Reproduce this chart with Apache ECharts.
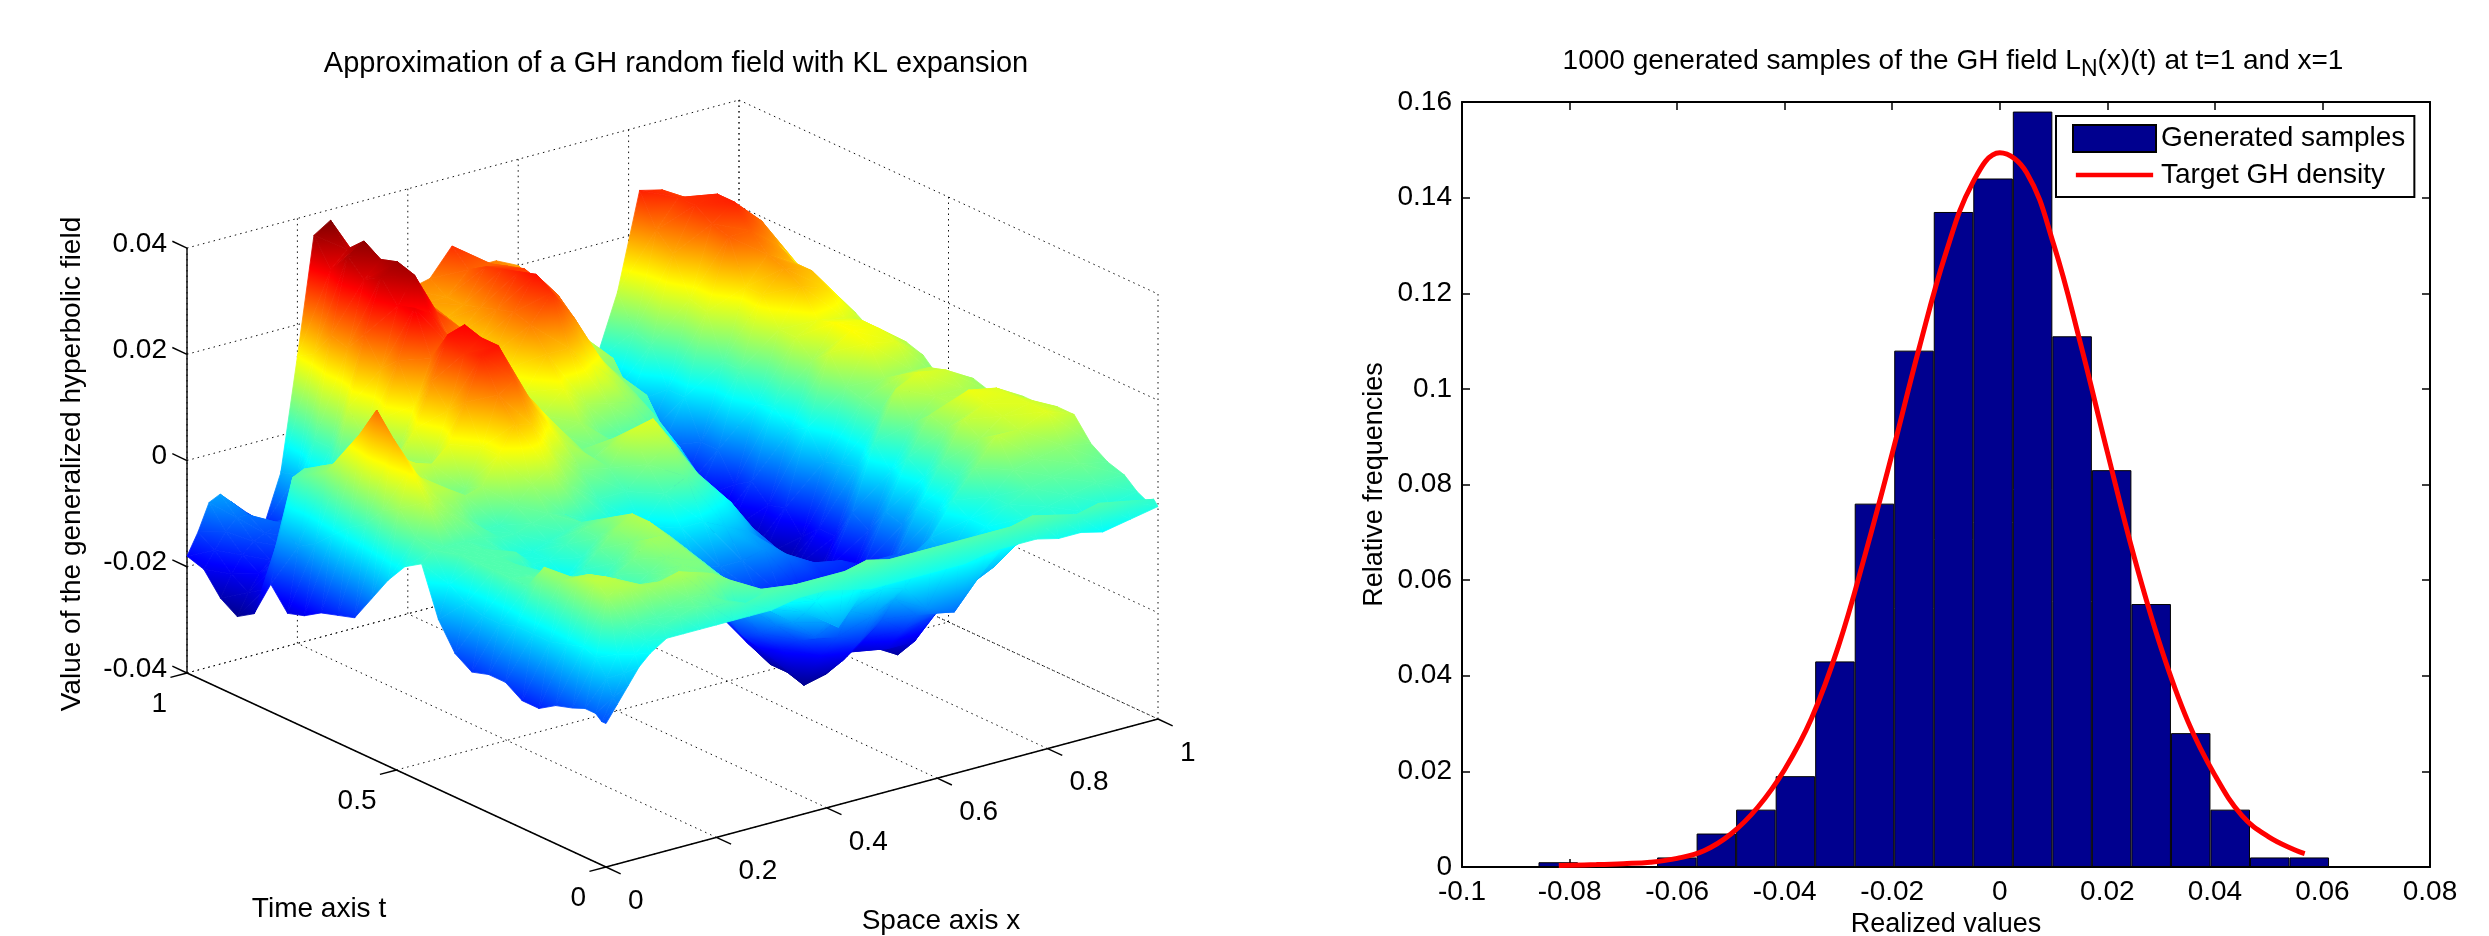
<!DOCTYPE html>
<html><head><meta charset="utf-8"><style>html,body{margin:0;padding:0;background:#fff}#c{width:2489px;height:936px}</style>
<script src="https://cdn.jsdelivr.net/npm/echarts@6/dist/echarts.min.js"></script></head><body><div id="c"></div>
<script>
// ---------- left panel: surface data (z values x 1000) ----------
const xGrid=[0,.02,.04,.06,.08,.11,.14,.17,.20,.23,.26,.30,.35,.40,.44,.48,.52,.56,.60,.65,.70,.74,.78,.82,.86,.90,.95,1];
const tGrid=[1,.96,.92,.88,.84,.80,.76,.72,.68,.64,.60,.56,.52,.48,.44,.40,.36,.32,.28,.24,.20,.16,.12,.08,.05,.025,.01,0];
const zMilli=[
[-18,-14,-9,-8,-10,-13,-16,-7,14,36,38,30,28,21,22,27,22,22,20,14,3,-2,10,28,27,24,22,14],
[-19,-16,-13,-11,-11,-14,-16,-6,16,31,34,28,26,20,20,24,24,21,17,8,-2,-7,4,22,27,25,21,15],
[-23,-19,-16,-14,-13,-12,-11,2,21,35,37,29,25,18,20,26,25,22,15,10,-2,-7,3,19,27,28,22,15],
[-25,-21,-18,-16,-14,-13,-10,2,20,32,35,28,24,17,21,27,26,20,13,6,-6,-12,-4,12,25,28,23,14],
[-23,-19,-15,-13,-11,-7,-3,11,24,34,36,27,23,16,22,28,25,18,11,7,-5,-12,-4,11,24,24,20,13],
[-16,-6,3,4,3,1,0,7,19,30,35,27,22,16,23,29,24,16,9,2,-11,-20,-11,3,16,21,18,11],
[-20,-8,5,6,5,5,6,12,22,31,29,22,18,15,22,27,21,13,7,3,-10,-19,-11,3,16,20,18,11],
[-19,-6,7,8,7,5,3,7,15,23,25,20,16,12,18,18,14,10,6,-2,-15,-24,-16,-2,11,18,16,10],
[-17,-3,12,11,9,8,8,13,21,29,30,22,15,9,13,9,8,7,4,-4,-13,-22,-14,-1,11,13,12,8],
[-16,0,17,15,12,8,5,8,17,27,29,21,14,7,8,4,3,3,0,-11,-18,-26,-17,-4,8,14,13,9],
[-15,2,23,18,13,11,10,13,20,28,29,20,13,5,5,4,2,0,-4,-13,-17,-24,-16,-2,11,14,13,9],
[-10,6,19,14,11,7,4,6,13,22,24,17,10,5,8,8,4,0,-8,-17,-22,-26,-20,-7,6,13,12,8],
[-5,8,15,12,10,9,7,8,13,18,17,11,6,5,11,12,6,-1,-10,-17,-20,-23,-17,-6,5,8,8,5],
[-1,4,10,8,7,5,2,2,5,8,10,6,2,2,6,9,3,-3,-13,-19,-23,-25,-17,-5,4,10,10,7],
[1,3,3,3,3,3,2,2,3,4,3,1,-1,-3,2,4,1,-3,-9,-16,-18,-20,-11,1,10,12,11,8],
[-8,-2,3,3,3,2,0,0,1,2,3,0,-3,-6,-3,-3,-5,-7,-12,-16,-20,-22,-13,-3,5,9,9,7],
[-13,-4,3,3,3,3,0,0,2,4,5,2,-3,-8,-9,-10,-10,-9,-11,-14,-15,-17,-8,1,8,9,9,7],
[-15,-5,3,3,3,0,-3,-2,1,4,7,4,-2,-10,-14,-16,-15,-16,-17,-17,-17,-18,-9,-1,7,13,12,9],
[-14,-5,3,3,3,2,0,1,4,7,9,5,-3,-12,-17,-20,-19,-16,-15,-14,-12,-12,-4,3,10,12,12,9],
[-14,-4,3,4,4,1,-1,0,3,6,9,5,-4,-13,-19,-24,-23,-22,-20,-18,-13,-12,-4,2,8,11,12,10],
[-16,-4,8,6,5,4,2,3,5,8,8,4,-5,-15,-19,-24,-25,-21,-20,-23,-12,-6,0,5,10,10,12,10],
[-16,-4,7,7,6,4,2,2,4,6,7,3,-5,-13,-17,-25,-24,-21,-21,-24,-13,-8,-2,1,5,6,7,6],
[-14,-3,9,9,8,5,4,4,5,6,6,2,-4,-10,-14,-18,-20,-17,-20,-20,-11,-6,-2,1,3,4,5,4],
[-13,-2,10,10,9,7,6,6,6,6,5,1,-4,-8,-12,-13,-15,-12,-15,-14,-9,-7,-3,0,1,2,3,3],
[-12,-3,8,9,9,8,8,9,8,7,5,1,-2,-5,-8,-7,-9,-7,-11,-11,-8,-6,-3,-1,0,0,0,1],
[-12,-6,-2,2,3,3,4,5,5,3,-1,3,1,-2,-8,-3,-3,-4,-9,-11,-5,-1,0,1,0,0,-1,0],
[-13,-9,-5,-2,0,2,3,4,3,3,2,3,3,3,3,4,3,3,3,3,3,3,4,3,2,3,2,1],
[-13,-10,-7,-4,-2,0,0,0,0,0,0,0,1,1,0,-1,-1,-1,-1,-1,0,0,0,-1,-1,-2,-1,0]];
const xTicks=[0,.2,.4,.6,.8,1];
const tTicks=[0,.5,1];
const zTicks=[-.04,-.02,0,.02,.04];
const leftTitle='Approximation of a GH random field with KL expansion';
// ---------- right panel ----------
const binCenters=[-.0821,-.07475,-.0674,-.06005,-.0527,-.04535,-.038,-.03065,-.0233,-.01595,-.0086,-.00125,.0061,.01345,.0208,.02815,.0355,.04285,.0502,.05755];
const binValues=[.001,0,0,.002,.007,.012,.019,.043,.076,.108,.137,.144,.158,.111,.083,.055,.028,.012,.002,.002];
const densityX=[-.082,-.075,-.07,-.065,-.06,-.055,-.05,-.045,-.04,-.035,-.03,-.025,-.02,-.015,-.01,-.005,0,.005,.01,.015,.02,.025,.03,.035,.04,.045,.05,.055,.0567];
const densityY=[.0003,.0005,.0007,.001,.0018,.0034,.0069,.0125,.0204,.0311,.0462,.0655,.0865,.1085,.1285,.1432,.1494,.1452,.1303,.1095,.0868,.0648,.0458,.0304,.0192,.0108,.0063,.0035,.0028];

const FONT='Liberation Sans';
const clim=[-26,38];
function project(x,t,zMil){return [606+552*x-419*t, 867-148*x-194*t-(zMil/1000+.04)*5312];}
function jetRGB(c){c=Math.max(0,Math.min(1,c));
 const r=Math.min(1,Math.max(0,Math.min(4*c-1.5,-4*c+4.5)));
 const g=Math.min(1,Math.max(0,Math.min(4*c-.5,-4*c+3.5)));
 const b=Math.min(1,Math.max(0,Math.min(4*c+.5,-4*c+2.5)));
 return 'rgb('+Math.round(r*255)+','+Math.round(g*255)+','+Math.round(b*255)+')';}
const knots=[0,1/8,3/8,5/8,7/8,1];
function triFill(P,Z){
 const cz=Z.map(z=>(z-clim[0])/(clim[1]-clim[0]));
 let lo=0,hi=0;for(let i=1;i<3;i++){if(cz[i]<cz[lo])lo=i;if(cz[i]>cz[hi])hi=i;}
 const d=cz[hi]-cz[lo];
 const ax=P[1][0]-P[0][0],ay=P[1][1]-P[0][1],bx=P[2][0]-P[0][0],by=P[2][1]-P[0][1];
 const det=ax*by-ay*bx;
 if(d<1e-6||Math.abs(det)<1e-6)return jetRGB((cz[0]+cz[1]+cz[2])/3);
 const dc1=cz[1]-cz[0],dc2=cz[2]-cz[0];
 const gx=(dc1*by-dc2*ay)/det,gy=(ax*dc2-bx*dc1)/det;
 const g2=gx*gx+gy*gy;
 const sx=P[lo][0],sy=P[lo][1];
 const stops=[{offset:0,color:jetRGB(cz[lo])}];
 knots.forEach(k=>{if(k>cz[lo]&&k<cz[hi])stops.push({offset:(k-cz[lo])/d,color:jetRGB(k)});});
 stops.push({offset:1,color:jetRGB(cz[hi])});
 return {type:'linear',global:true,x:sx,y:sy,x2:sx+gx*d/g2,y2:sy+gy*d/g2,colorStops:stops};
}
// triangles ordered back to front
const triData=[];
for(let i=0;i<tGrid.length-1;i++){for(let j=xGrid.length-2;j>=0;j--){
 triData.push([i,j,0]);triData.push([i,j,1]);}}
function renderTri(params,api){
 const i=api.value(0),j=api.value(1),k=api.value(2);
 const V=k===0?[[i,j],[i,j+1],[i+1,j+1]]:[[i,j],[i+1,j+1],[i+1,j]];
 const Z=V.map(a=>zMilli[a[0]][a[1]]);
 const P=V.map(a=>api.coord(project(xGrid[a[1]],tGrid[a[0]],zMilli[a[0]][a[1]])));
 const f=triFill(P,Z);
 return {type:'polygon',silent:true,shape:{points:P},style:{fill:f,stroke:f,lineWidth:.8}};
}
function renderFrame(params,api){
 const kids=[];
 const zp=z=>z*1000;
 const pt=(x,t,z)=>api.coord(project(x,t,zp(z)));
 const line=(a,b,dotted)=>kids.push({type:'line',silent:true,shape:{x1:a[0],y1:a[1],x2:b[0],y2:b[1]},
   style:dotted?{stroke:'#111',lineWidth:1,lineDash:[1.5,4]}:{stroke:'#000',lineWidth:1.4}});
 const text=(s,p,align,extra)=>kids.push(Object.assign({type:'text',silent:true,x:p[0],y:p[1],
   style:{text:s,fontFamily:FONT,fontSize:28,fill:'#000',align:align,verticalAlign:'middle'}},extra||{}));
 const zB=-.04,zT=.04;
 xTicks.forEach(x=>{line(pt(x,0,zB),pt(x,1,zB),true);line(pt(x,1,zB),pt(x,1,zT),true);});
 tTicks.forEach(t=>{line(pt(0,t,zB),pt(1,t,zB),true);line(pt(1,t,zB),pt(1,t,zT),true);});
 zTicks.forEach(z=>{line(pt(0,1,z),pt(1,1,z),true);line(pt(1,1,z),pt(1,0,z),true);});
 line(pt(0,1,zB),pt(0,1,zT));line(pt(0,1,zB),pt(0,0,zB));line(pt(0,0,zB),pt(1,0,zB));
 xTicks.forEach(x=>{const a=pt(x,0,zB);line(a,pt(x,-.035,zB));
   text(String(x),[a[0]+22,a[1]+34],'left');});
 tTicks.forEach(t=>{const a=pt(0,t,zB);line(a,pt(-.03,t,zB));
   text(String(t),[a[0]-20,a[1]+31],'right');});
 zTicks.forEach(z=>{const a=pt(0,1,z);line(a,pt(0,1.035,z));
   text(String(z),[a[0]-20,a[1]-4],'right');});
 text('Time axis t',api.coord([319,909]),'center');
 text('Space axis x',api.coord([941,921]),'center');
 const yT=api.coord([72,464]);
 text('Value of the generalized hyperbolic field',yT,'center',{rotation:Math.PI/2});
 return {type:'group',children:kids};
}
const axisLabel={color:'#000',fontFamily:FONT,fontSize:28};
const chart=echarts.init(document.getElementById('c'),null,{renderer:'canvas',width:2489,height:936});
chart.setOption({
 animation:false,backgroundColor:'#fff',
 title:[
  {text:leftTitle,left:671,top:44,textAlign:'center',textStyle:{fontFamily:FONT,fontSize:29,fontWeight:'normal',color:'#000'}},
  {text:'1000 generated samples of the GH field L{sub|N}(x)(t) at t=1 and x=1',left:1948,top:37,textAlign:'center',
   textStyle:{fontFamily:FONT,fontSize:28,fontWeight:'normal',color:'#000',rich:{sub:{fontFamily:FONT,fontSize:23,color:'#000',padding:[16,0,0,0]}}}}
 ],
 legend:{data:[{name:'Generated samples',icon:'rect'},
   {name:'Target GH density',icon:'path://M0 0H.01V.01H0ZM0 12H83V17H0ZM0 28.99H.01V29H0Z',itemStyle:{color:'#FF0000',borderWidth:0}}],
  left:2056,top:116,orient:'vertical',itemWidth:83,itemHeight:27,itemGap:8,
  padding:[8,9,8,16],backgroundColor:'#fff',borderColor:'#000',borderWidth:2,borderRadius:0,
  textStyle:{fontFamily:FONT,fontSize:28,color:'#000'},selectedMode:false},
 grid:[{left:0,top:0,width:1250,height:936,show:false,outerBoundsMode:'none'},
       {left:1462,top:102,width:968,height:765,show:false,outerBoundsMode:'none'}],
 xAxis:[
  {gridIndex:0,type:'value',min:0,max:1250,show:false},
  {gridIndex:1,type:'value',min:-.1,max:.08,interval:.02,position:'bottom',name:'Realized values',nameLocation:'middle',nameGap:43,
   nameTextStyle:{fontFamily:FONT,fontSize:27,color:'#000'},
   axisLine:{show:true,onZero:false,lineStyle:{color:'#000',width:2}},axisTick:{show:true,inside:true,length:8,lineStyle:{color:'#000',width:1.5}},
   axisLabel:Object.assign({margin:11,hideOverlap:false,showMinLabel:true,showMaxLabel:true},axisLabel),splitLine:{show:false}},
  {gridIndex:1,type:'value',min:-.1,max:.08,interval:.02,position:'top',
   axisLine:{show:true,onZero:false,lineStyle:{color:'#000',width:2}},axisTick:{show:true,inside:true,length:8,lineStyle:{color:'#000',width:1.5}},
   axisLabel:{show:false},splitLine:{show:false}}
 ],
 yAxis:[
  {gridIndex:0,type:'value',min:0,max:936,inverse:true,show:false},
  {gridIndex:1,type:'value',min:0,max:.16,interval:.02,position:'left',name:'Relative frequencies',nameLocation:'middle',nameGap:74,
   nameTextStyle:{fontFamily:FONT,fontSize:27,color:'#000'},
   axisLine:{show:true,onZero:false,lineStyle:{color:'#000',width:2}},axisTick:{show:true,inside:true,length:8,lineStyle:{color:'#000',width:1.5}},
   axisLabel:Object.assign({margin:10,showMinLabel:true,showMaxLabel:true},axisLabel),splitLine:{show:false}},
  {gridIndex:1,type:'value',min:0,max:.16,interval:.02,position:'right',
   axisLine:{show:true,onZero:false,lineStyle:{color:'#000',width:2}},axisTick:{show:true,inside:true,length:8,lineStyle:{color:'#000',width:1.5}},
   axisLabel:{show:false},splitLine:{show:false}}
 ],
 series:[
  {type:'custom',xAxisIndex:0,yAxisIndex:0,clip:false,data:[0],renderItem:renderFrame,silent:true,z:1},
  {type:'custom',xAxisIndex:0,yAxisIndex:0,clip:false,data:triData,renderItem:renderTri,silent:true,z:2,progressive:0,
   encode:{x:[],y:[]}},
  {name:'Generated samples',type:'bar',xAxisIndex:1,yAxisIndex:1,barWidth:'100%',
   data:binCenters.map((c,i)=>[c,binValues[i]]),itemStyle:{color:'#00008F',borderColor:'#000',borderWidth:1},silent:true,z:3},
  {name:'Target GH density',type:'line',xAxisIndex:1,yAxisIndex:1,smooth:.4,showSymbol:false,symbol:'none',
   data:densityX.map((c,i)=>[c,densityY[i]]),lineStyle:{color:'#FF0000',width:5},itemStyle:{color:'#FF0000'},silent:true,z:4}
 ]
});
</script></body></html>
